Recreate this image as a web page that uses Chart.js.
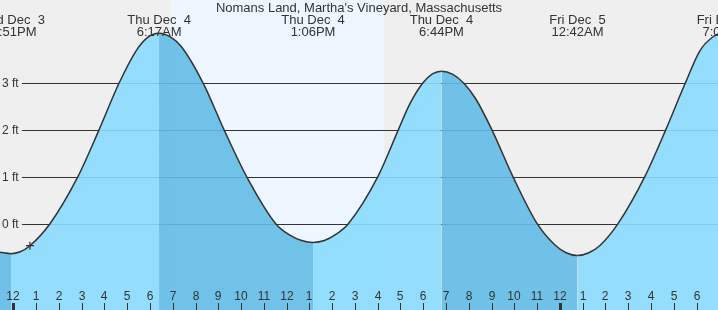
<!DOCTYPE html>
<html>
<head>
<meta charset="utf-8">
<script src="https://cdn.jsdelivr.net/npm/chart.js@4/dist/chart.umd.min.js"></script>
<style>
  html, body { margin: 0; padding: 0; background: #efefef; }
  canvas { display: block; }
</style>
</head>
<body>
<canvas id="tide" width="718" height="310"></canvas>
<script>
// hours after midnight Thu Dec 4, water level in feet
const tideHours = [-0.584, -0.1, 0.3, 0.73, 1.61, 2.83, 3.76, 4.64, 5.4, 5.9, 6.4, 6.9, 7.4,
  8.34, 9.26, 10.25, 11.52, 12.16, 12.66, 13.16, 13.66, 14.16, 14.71, 16.0, 16.9,
  17.4, 17.97, 18.4, 18.8, 19.3, 19.78, 20.3, 21.02, 21.94, 23.0, 23.77, 24.27,
  24.77, 25.27, 25.77, 26.55, 27.72, 28.64, 29.5, 30.15, 30.74, 31.24];
const tideFeet = [-0.61, -0.64, -0.6, -0.47, 0.0, 1.0, 2.0, 3.0, 3.7, 3.98, 4.07, 3.99, 3.77,
  3.0, 2.0, 1.0, 0.0, -0.25, -0.36, -0.4, -0.36, -0.23, 0.0, 1.0, 2.0,
  2.55, 3.0, 3.2, 3.26, 3.19, 3.0, 2.67, 2.0, 1.0, 0.0, -0.45, -0.62,
  -0.68, -0.62, -0.46, 0.0, 1.0, 2.0, 3.0, 3.7, 4.0, 4.1];

const nowHour = [0.73];
const nowFeet = [-0.47];

const extremeHours = [-0.1, 6.4, 13.16, 18.8, 24.77, 31.24];
const extremeDays = ["Wed Dec  3", "Thu Dec  4", "Thu Dec  4", "Thu Dec  4", "Fri Dec  5", "Fri Dec  5"];
const extremeTimes = ["11:51PM", "6:17AM", "1:06PM", "6:44PM", "12:42AM", "7:05AM"];

const hourLabels = ["12", "1", "2", "3", "4", "5", "6", "7", "8", "9", "10", "11",
  "12", "1", "2", "3", "4", "5", "6", "7", "8", "9", "10", "11",
  "12", "1", "2", "3", "4", "5", "6"];
const midnightHours = [0, 24];

const feetTicks = [0, 1, 2, 3];
const feetLabels = ["0 ft", "1 ft", "2 ft", "3 ft"];

const daylight = [6.92, 16.27]; // sunrise, sunset

const title = "Nomans Land, Martha's Vineyard, Massachusetts";

const lightWater = "rgba(138, 218, 253, 0.9)";
const darkWater = "rgba(98, 187, 229, 0.9)";
const ink = "#333";

const tidePlugin = {
  id: "tideDecor",
  beforeDatasetsDraw(chart) {
    const ctx = chart.ctx;
    const x = chart.scales.x;
    const y = chart.scales.y;
    ctx.save();
    ctx.fillStyle = "#efefef";
    ctx.fillRect(0, 0, chart.width, chart.height);
    const x0 = x.getPixelForValue(daylight[0]);
    const x1 = x.getPixelForValue(daylight[1]);
    ctx.fillStyle = "#eef7ff";
    ctx.fillRect(x0, 0, x1 - x0, chart.height);

    ctx.strokeStyle = ink;
    ctx.lineWidth = 1;
    feetTicks.forEach((v) => {
      const py = Math.round(y.getPixelForValue(v)) + 0.5;
      ctx.beginPath();
      ctx.moveTo(22, py);
      ctx.lineTo(chart.width, py);
      ctx.stroke();
    });
    ctx.restore();
  },
  afterDatasetsDraw(chart) {
    const ctx = chart.ctx;
    const x = chart.scales.x;
    const y = chart.scales.y;
    ctx.save();
    ctx.fillStyle = ink;

    // left labels
    ctx.font = "12px 'Liberation Sans', Arial, sans-serif";
    ctx.textAlign = "left";
    ctx.textBaseline = "alphabetic";
    feetTicks.forEach((v, i) => {
      const py = y.getPixelForValue(v);
      ctx.fillText(feetLabels[i], 2, py + 4);
    });

    // bottom hours
    ctx.textAlign = "center";
    hourLabels.forEach((lab, h) => {
      const px = Math.round(x.getPixelForValue(h));
      ctx.fillText(lab, px, 300);
      const thick = midnightHours.includes(h);
      ctx.fillRect(thick ? px - 1 : px, 303, thick ? 3 : 1, 7);
    });

    // title and high/low labels
    ctx.font = "13px 'Liberation Sans', Arial, sans-serif";
    ctx.fillText(title, chart.width / 2, 12);
    extremeHours.forEach((h, i) => {
      const px = x.getPixelForValue(h);
      ctx.fillText(extremeDays[i], px, 24);
      ctx.fillText(extremeTimes[i], px, 36);
    });
    ctx.restore();
  },
};

new Chart(document.getElementById("tide"), {
  type: "line",
  data: {
    datasets: [
      {
        data: tideHours.map((h, i) => ({ x: h, y: tideFeet[i] })),
        borderColor: ink,
        borderWidth: 1.5,
        backgroundColor: lightWater,
        fill: "start",
        pointRadius: 0,
        cubicInterpolationMode: "monotone",
        order: 2,
        segment: {
          backgroundColor: (c) => (c.p1.parsed.y < c.p0.parsed.y ? darkWater : lightWater),
        },
      },
      {
        type: "scatter",
        data: nowHour.map((h, i) => ({ x: h, y: nowFeet[i] })),
        pointStyle: "cross",
        pointRadius: 4,
        borderColor: ink,
        borderWidth: 1.2,
        showLine: false,
        fill: false,
        order: 1,
      },
    ],
  },
  options: {
    responsive: false,
    animation: false,
    devicePixelRatio: 1,
    layout: { padding: 0, autoPadding: false },
    plugins: { legend: { display: false }, tooltip: { enabled: false } },
    events: [],
    scales: {
      x: { type: "linear", min: -0.584, max: 30.94, display: false },
      y: { min: -1.844, max: 4.78, display: false },
    },
  },
  plugins: [tidePlugin],
});
</script>
</body>
</html>
